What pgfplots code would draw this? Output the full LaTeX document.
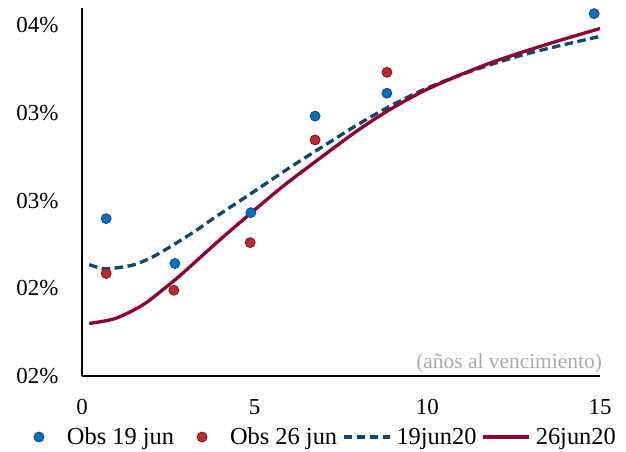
\documentclass[border=0pt]{standalone}
\usepackage{fontspec}
\setmainfont{Liberation Serif}
\usepackage{pgfplots}
\pgfplotsset{compat=1.18}
\definecolor{dotblue}{RGB}{0,112,192}
\definecolor{dotblueedge}{RGB}{20,75,130}
\definecolor{dotred}{RGB}{190,40,40}
\definecolor{dotrededge}{RGB}{130,20,30}
\definecolor{lineblue}{RGB}{10,72,120}
\definecolor{linered}{RGB}{150,0,45}
\definecolor{notegray}{RGB}{170,170,170}
\pgfplotsset{
  dotlegend/.style={legend image code/.code={\path[draw=none,fill=none] (0bp,0bp) (46bp,0bp);\draw[mark repeat=2,mark phase=2,##1] plot coordinates {(0bp,0bp) (23bp,0bp) (46bp,0bp)};}},
  linelegend/.style={legend image code/.code={\draw[##1] (0bp,0bp) -- (46bp,0bp);}},
}
\begin{document}
\begin{tikzpicture}
\begin{axis}[
  name=ax,
  scale only axis,
  width=518bp, height=368bp,
  xmin=0, xmax=15, ymin=1.5, ymax=3.6,
  axis x line=bottom, axis y line=left,
  axis line style={line width=1.4pt,-},
  xtick={0,5,10,15},
  ytick={1.5,2,2.5,3,3.5},
  yticklabels={02\%,02\%,03\%,03\%,04\%},
  major tick length=0pt,
  /pgf/number format/assume math mode=true,
  tick label style={font=\fontsize{23}{27}\selectfont},
  yticklabel style={xshift=-20bp},
  xticklabel style={yshift=-20bp},
  clip=false,
  legend columns=4,
  legend style={draw=none, fill=none, font=\fontsize{24.5}{29}\selectfont,
    at={(-0.1275,-0.1658)}, anchor=west, inner sep=0pt, outer sep=0pt,
    nodes={inner xsep=0pt},
    /tikz/every odd column/.append style={column sep=5bp},
    /tikz/every even column/.append style={column sep=5bp}},
  legend cell align=left,
]
\addplot[only marks, mark=*, mark size=5bp, mark options={fill=dotblue, draw=dotblueedge, line width=0.8pt}, dotlegend]
  coordinates {(0.70,2.398) (2.69,2.142) (4.89,2.432) (6.75,2.983) (8.83,3.114) (14.83,3.568)};
\addlegendentry{Obs 19 jun}
\addplot[only marks, mark=*, mark size=5bp, mark options={fill=dotred, draw=dotrededge, line width=0.8pt}, dotlegend]
  coordinates {(0.70,2.085) (2.66,1.989) (4.87,2.261) (6.75,2.847) (8.83,3.233)};
\addlegendentry{Obs 26 jun}
\addplot[lineblue, line width=3.3bp, dash pattern=on 8.5bp off 4.5bp, smooth, linelegend]
  coordinates {(0.21,2.136) (0.68,2.112) (1.45,2.132) (2.03,2.178) (2.61,2.244) (3.3,2.33) (3.9,2.412) (4.87,2.538) (5.83,2.665) (6.51,2.752) (7.3,2.85) (7.96,2.932) (8.92,3.04) (9.88,3.133) (10.85,3.21) (11.82,3.276) (12.78,3.333) (13.75,3.381) (15.0,3.438)};
\addlegendentry{19jun20}
\addplot[linered, line width=3.3bp, smooth, linelegend]
  coordinates {(0.21,1.80) (0.96,1.828) (1.74,1.903) (2.32,1.989) (2.85,2.075) (3.90,2.261) (4.91,2.433) (5.79,2.578) (6.60,2.70) (7.96,2.898) (8.92,3.021) (9.88,3.125) (10.85,3.21) (11.82,3.286) (12.78,3.35) (13.75,3.41) (15.0,3.483)};
\addlegendentry{26jun20}
\node[anchor=south east, font=\fontsize{21.5}{25}\selectfont, text=notegray, inner sep=0pt] at (rel axis cs:1.004,0.008) {(años al vencimiento)};
\end{axis}
\pgfresetboundingbox
\path[use as bounding box] ([shift={(-82bp,-76bp)}]ax.south west) rectangle ([shift={(26bp,8bp)}]ax.north east);
\end{tikzpicture}
\end{document}
